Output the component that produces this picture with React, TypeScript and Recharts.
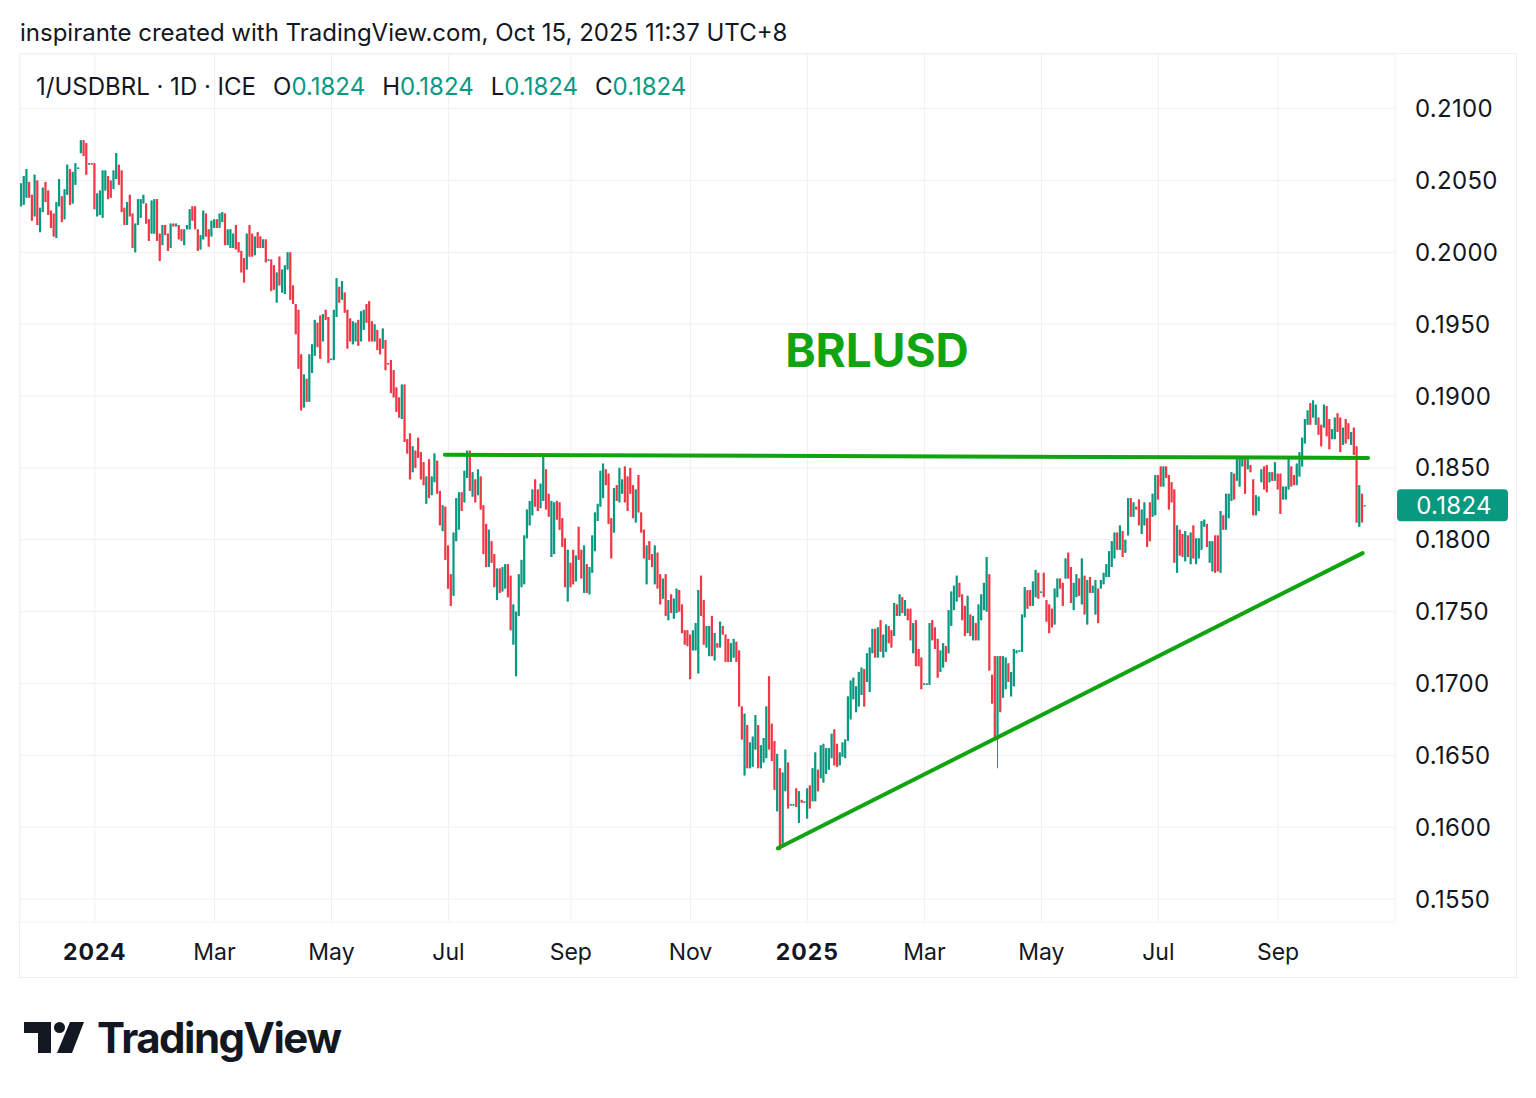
import React from "react";
import { ComposedChart, Bar, XAxis, YAxis, CartesianGrid, ReferenceLine } from "recharts";

// daily bars of 1/USDBRL, [open, close] or [open, close, low, high], in units of 0.0001
const nov23 = [[2032,2048],[2033,2053],[2038,2058],[2049,2038],[2040,2022],[2025,2054]];
const dec23 = [[2050,2019],[2014,2031],[2028,2045],[2049,2035],[2043,2026],[2029,2017],[2027,2011],[2010,2035],[2032,2051],[2039,2021],[2023,2044],[2040,2061],[2058,2033],[2034,2056],[2047,2062],[2058,2059],[2069,2078],[2078,2067],[2076,2054],[2061,2062],[2062,2061]];
const jan24 = [[2062,2030],[2025,2041],[2026,2043],[2024,2057],[2043,2057],[2053,2037],[2050,2038],[2044,2057],[2051,2069],[2061,2047],[2057,2028],[2031,2019],[2019,2035],[2040,2025],[2027,2003],[2000,2020],[2019,2037],[2024,2037],[2034,2040],[2034,2020],[2023,2008],[2013,2036],[2013,2037]];
const feb24 = [[2037,2008],[2013,1994],[2005,2019],[2019,2012],[2013,2001],[2003,2020],[2020,2018],[2018,2020],[2019,2009],[2016,2008],[2005,2016],[2016,2019],[2016,2030],[2032,2022],[2032,2016],[2016,2001],[2002,2012],[2009,2029],[2027,2011],[2016,2004],[2011,2022]];
const mar24 = [[2017,2023],[2023,2017],[2017,2027],[2021,2028],[2027,2005],[2005,2016],[2003,2016],[2003,2013],[2019,2002],[2007,2000],[2001,1986],[1996,1979],[1988,2013],[2019,1997],[2013,1997],[1998,2011],[2014,2003],[2011,2003],[2003,2009],[2009,1993],[1994,1995]];
const apr24 = [[1995,1973],[1991,1974],[1965,1986],[1997,1977],[1972,1988],[1971,1991],[1988,2000],[2000,1967],[1977,1964],[1964,1943],[1960,1919],[1929,1890],[1892,1915],[1912,1896],[1896,1929],[1916,1936],[1928,1953],[1951,1934],[1956,1926],[1938,1957],[1960,1953],[1955,1923]];
const may24 = [[1925,1926],[1925,1960],[1955,1982],[1976,1965],[1967,1980],[1972,1958],[1960,1933],[1954,1938],[1936,1952],[1938,1951],[1953,1935],[1938,1959],[1946,1960],[1964,1951],[1966,1938],[1952,1938],[1938,1950],[1946,1932],[1940,1929],[1933,1947],[1939,1918],[1923,1922],[1925,1902]];
const jun24 = [[1918,1899],[1906,1889],[1899,1885],[1884,1908],[1908,1868],[1870,1860],[1874,1842],[1847,1865],[1862,1850],[1871,1857],[1861,1842],[1854,1838],[1825,1844],[1856,1829],[1831,1844],[1840,1860],[1855,1832],[1834,1810],[1806,1824],[1823,1786]];
const jul24 = [[1796,1766],[1776,1754],[1761,1805],[1799,1829],[1807,1833],[1833,1820],[1826,1848],[1843,1862],[1862,1834],[1830,1847],[1842,1826],[1831,1849],[1844,1821],[1824,1790],[1811,1781],[1781,1807],[1799,1784],[1790,1767],[1758,1780],[1780,1763],[1764,1781],[1766,1783],[1783,1760]];
const aug24 = [[1775,1737],[1727,1755],[1705,1750],[1747,1776],[1767,1786],[1769,1803],[1801,1821],[1810,1827],[1817,1835],[1842,1823],[1835,1820],[1822,1839],[1827,1860],[1849,1821],[1832,1816],[1788,1827],[1790,1826],[1827,1814],[1826,1807],[1815,1795],[1801,1767],[1757,1793]];
const sep24 = [[1784,1767],[1793,1769],[1771,1789],[1809,1786],[1793,1773],[1763,1796],[1783,1763],[1762,1781],[1777,1803],[1792,1819],[1813,1825],[1823,1848],[1829,1853],[1849,1838],[1846,1811],[1815,1787],[1805,1836],[1838,1827],[1826,1850],[1832,1842],[1851,1826]];
const oct24 = [[1844,1820],[1850,1832],[1838,1815],[1812,1835],[1845,1819],[1819,1805],[1807,1787],[1769,1796],[1799,1786],[1790,1781],[1769,1796],[1791,1766],[1776,1755],[1759,1773],[1776,1747],[1744,1758],[1762,1749],[1745,1759],[1749,1766],[1765,1750],[1755,1735],[1737,1727],[1737,1726]];
const nov24 = [[1734,1703],[1723,1737],[1723,1742],[1707,1765],[1775,1747],[1758,1727],[1725,1740],[1719,1740],[1747,1719],[1716,1735],[1728,1725],[1725,1743],[1740,1734],[1734,1715],[1731,1715],[1715,1728],[1718,1731],[1729,1715],[1723,1684],[1684,1661],[1636,1679]];
const dec24 = [[1671,1641],[1641,1659],[1642,1663],[1654,1678],[1671,1641],[1641,1657],[1645,1662],[1648,1684],[1705,1654],[1672,1646],[1660,1626],[1611,1651],[1641,1584],[1586,1638],[1625,1654],[1645,1613],[1615,1616],[1615,1616],[1627,1614],[1603,1625],[1619,1617],[1617,1618]];
const jan25 = [[1606,1627],[1629,1613],[1618,1641],[1618,1652],[1640,1625],[1634,1657],[1631,1658],[1637,1655],[1640,1655],[1648,1665],[1668,1643],[1658,1642],[1643,1652],[1649,1659],[1648,1661],[1660,1691],[1675,1702],[1689,1704],[1680,1698],[1684,1708],[1692,1711],[1710,1684],[1701,1721]];
const feb25 = [[1694,1725],[1721,1738],[1738,1718],[1718,1739],[1744,1722],[1718,1734],[1722,1741],[1740,1728],[1737,1725],[1733,1756],[1755,1747],[1747,1762],[1760,1749],[1747,1758],[1752,1744],[1752,1730],[1721,1742],[1744,1712],[1724,1712],[1718,1696]];
const mar25 = [[1699,1700],[1699,1700],[1699,1742],[1744,1730],[1739,1724],[1731,1704],[1708,1723],[1711,1728],[1726,1715],[1721,1751],[1740,1764],[1751,1768],[1757,1775],[1770,1760],[1762,1744],[1754,1733],[1735,1761],[1748,1733],[1730,1747],[1742,1730],[1730,1755]];
const apr25 = [[1744,1762],[1751,1770],[1750,1788],[1776,1709],[1706,1686],[1719,1661],[1661,1719,1641,1719],[1719,1680],[1690,1719],[1696,1718],[1714,1701],[1691,1708],[1698,1724],[1721,1723],[1722,1723],[1722,1748],[1746,1767],[1765,1752],[1765,1754],[1754,1771],[1760,1779],[1777,1759]];
const may25 = [[1763,1764],[1777,1760],[1758,1743],[1755,1735],[1752,1739],[1741,1766],[1760,1773],[1773,1766],[1770,1754],[1773,1787],[1791,1773],[1781,1756],[1751,1770],[1760,1776],[1773,1761],[1755,1787],[1775,1748],[1741,1772],[1774,1763],[1763,1768],[1748,1772],[1766,1742]];
const jun25 = [[1766,1772],[1769,1777],[1774,1783],[1774,1792],[1781,1799],[1787,1805],[1805,1793],[1793,1810],[1806,1788],[1791,1800],[1803,1829],[1829,1816],[1816,1826],[1823,1821],[1828,1810],[1804,1821],[1810,1826],[1815,1795],[1826,1799],[1816,1832],[1817,1845]];
const jul25 = [[1845,1828],[1851,1837],[1837,1851],[1851,1843],[1845,1821],[1840,1826],[1835,1784],[1777,1810],[1807,1789],[1804,1788],[1785,1806],[1803,1788],[1783,1805],[1810,1787],[1783,1801],[1787,1801],[1793,1813],[1809,1814],[1811,1795],[1784,1799],[1778,1799],[1803,1777],[1803,1778]];
const aug25 = [[1777,1820],[1817,1807],[1807,1832],[1815,1832],[1827,1847],[1846,1828],[1841,1858],[1837,1858],[1851,1858],[1857,1832],[1849,1856],[1852,1847],[1842,1817],[1817,1831],[1820,1830],[1840,1849],[1851,1835],[1852,1833],[1840,1847],[1847,1841],[1841,1854]];
const sep25 = [[1846,1835],[1846,1818],[1828,1837],[1828,1837],[1835,1858],[1851,1837],[1845,1838],[1838,1853],[1844,1861],[1851,1871],[1867,1884],[1880,1890],[1895,1880],[1885,1897],[1880,1894],[1885,1873],[1880,1865],[1878,1894],[1893,1872],[1884,1863],[1870,1877],[1870,1885]];
const oct25 = [[1888,1875],[1885,1861],[1866,1878],[1884,1867],[1881,1870],[1866,1875],[1878,1859],[1865,1812],[1809,1838],[1832,1812],[1824,1824]];

const monthBars = [nov23, dec23, jan24, feb24, mar24, apr24, may24, jun24, jul24, aug24, sep24, oct24, nov24, dec24, jan25, feb25, mar25, apr25, may25, jun25, jul25, aug25, sep25, oct25];
const monthTickLabels = ["", "", "2024", "", "Mar", "", "May", "", "Jul", "", "Sep", "", "Nov", "", "2025", "", "Mar", "", "May", "", "Jul", "", "Sep", ""];
const priceTicks = [0.155, 0.16, 0.165, 0.17, 0.175, 0.18, 0.185, 0.19, 0.195, 0.2, 0.205, 0.21];

// drawn trend lines: x in bar index, y in price
const neckline = [{ x: 155.7, y: 0.18592 }, { x: 495.1, y: 0.18569 }];
const supportLine = [{ x: 278.1, y: 0.15853 }, { x: 493.1, y: 0.17907 }];

const PIP = 0.0001;
const UP = "#089981";
const DOWN = "#F23645";
const GREEN = "#10A510";
const TEXT = "#131722";
const GRID = "#F0F0F0";
const FONT = "Inter, 'Noto Sans', sans-serif";

const rows: any[] = [];
const tickIndex: number[] = [];
const tickText: Record<number, string> = {};
monthBars.forEach((bars, m) => {
  if (monthTickLabels[m]) {
    tickIndex.push(rows.length);
    tickText[rows.length] = monthTickLabels[m];
  }
  bars.forEach((b) => {
    const lo = (b[2] ?? Math.min(b[0], b[1])) * PIP;
    const hi = (b[3] ?? Math.max(b[0], b[1])) * PIP;
    rows.push({ i: rows.length, o: b[0] * PIP, c: b[1] * PIP, lo, hi, range: [lo, hi] });
  });
});
const last = rows[rows.length - 1];

const Candle = (props: any) => {
  const { x, y, width, height, payload } = props;
  if (x == null || y == null || !payload) return null;
  const top = Math.min(y, y + height);
  const h = Math.abs(height);
  const span = payload.hi - payload.lo;
  const bHi = Math.max(payload.o, payload.c);
  const bLo = Math.min(payload.o, payload.c);
  const bTop = span > 0 ? top + ((payload.hi - bHi) / span) * h : top;
  const bBot = span > 0 ? top + ((payload.hi - bLo) / span) * h : top + h;
  const color = payload.c >= payload.o ? UP : DOWN;
  const cx = x + width / 2;
  return (
    <g>
      <rect x={cx - 0.5} y={top} width={1} height={Math.max(h, 1)} fill={color} />
      <rect x={cx - 1.1} y={bTop} width={2.2} height={Math.max(bBot - bTop, 1.2)} fill={color} />
    </g>
  );
};

const TimeTick = (props: any) => {
  const { x, y, payload } = props;
  const label = tickText[payload.value] || "";
  const bold = /^\d{4}$/.test(label);
  return (
    <text x={x} y={y + 30} textAnchor="middle" dominantBaseline="central" fontSize={23} fontWeight={bold ? 700 : 400} fill={TEXT} fontFamily={FONT} letterSpacing={bold ? 1 : 0}>
      {label}
    </text>
  );
};

const PriceTick = (props: any) => {
  const { x, y, payload } = props;
  return (
    <text x={x + 20} y={y} textAnchor="start" dominantBaseline="central" fontSize={24} letterSpacing={0.3} fill={TEXT} fontFamily={FONT}>
      {Number(payload.value).toFixed(4)}
    </text>
  );
};

const LastPriceLabel = (props: any) => {
  const vb = props.viewBox || {};
  const x0 = vb.x + vb.width + 2;
  const y0 = vb.y;
  return (
    <g>
      <rect x={x0} y={y0 - 16} width={111} height={32} rx={4} fill={UP} />
      <text x={x0 + 57} y={y0} textAnchor="middle" dominantBaseline="central" fontSize={24} letterSpacing={0.3} fill="#fff" fontFamily={FONT}>
        {last.c.toFixed(4)}
      </text>
    </g>
  );
};

export default function App() {
  const v = (n: number) => n.toFixed(4);
  return (
    <div style={{ position: "absolute", left: 0, top: 0, width: 1536, height: 1098, background: "#fff", overflow: "hidden" }}>
      <div style={{ position: "absolute", left: 19, top: 53, width: 1496, height: 923, border: `1px solid ${GRID}` }} />
      <div style={{ position: "absolute", left: 20, top: 54 }}>
        <ComposedChart width={1496} height={923} data={rows} margin={{ top: 0, right: 0, bottom: 0, left: 0 }}>
          <CartesianGrid stroke={GRID} strokeWidth={1} />
          <XAxis
            type="number"
            dataKey="i"
            domain={[-0.5, 505]}
            allowDataOverflow
            ticks={tickIndex}
            interval={0}
            axisLine={false}
            tickLine={false}
            tickSize={0}
            tickMargin={0}
            height={55}
            tick={<TimeTick />}
          />
          <YAxis
            orientation="right"
            type="number"
            domain={[0.1534, 0.2138]}
            allowDataOverflow
            ticks={priceTicks}
            interval={0}
            axisLine={false}
            tickLine={false}
            tickSize={0}
            tickMargin={0}
            width={121}
            tick={<PriceTick />}
          />
          <Bar dataKey="range" barSize={2} shape={<Candle />} isAnimationActive={false} />
          <ReferenceLine segment={neckline} stroke={GREEN} strokeWidth={4} strokeLinecap="round" ifOverflow="visible" />
          <ReferenceLine segment={supportLine} stroke={GREEN} strokeWidth={4} strokeLinecap="round" ifOverflow="visible" />
          <ReferenceLine y={last.c} stroke="none" label={<LastPriceLabel />} />
        </ComposedChart>
      </div>
      <svg width={1536} height={1098} style={{ position: "absolute", left: 0, top: 0, pointerEvents: "none" }} fontFamily={FONT}>
        <text x={20} y={32} dominantBaseline="central" fontSize={24} fill={TEXT}>
          inspirante created with TradingView.com, Oct 15, 2025 11:37 UTC+8
        </text>
        <text x={36} y={86} dominantBaseline="central" fontSize={24} fill={TEXT}>
          <tspan>1/USDBRL · 1D · ICE</tspan>
          <tspan dx={17}>O</tspan>
          <tspan fill={UP}>{v(last.o)}</tspan>
          <tspan dx={17}>H</tspan>
          <tspan fill={UP}>{v(last.hi)}</tspan>
          <tspan dx={17}>L</tspan>
          <tspan fill={UP}>{v(last.lo)}</tspan>
          <tspan dx={17}>C</tspan>
          <tspan fill={UP}>{v(last.c)}</tspan>
        </text>
        <text x={877} y={350} textAnchor="middle" dominantBaseline="central" fontSize={46} fontWeight={700} fill={GREEN}>
          BRLUSD
        </text>
        <g fill={TEXT}>
          <path d="M24 1022 H51 V1053 H38 V1033 H24 Z" />
          <circle cx={59.5} cy={1027.5} r={5.5} />
          <polygon points="70,1022 84,1022 72,1053 57,1053" />
          <text x={97} y={1053} fontSize={42} fontWeight={700} letterSpacing={-1.5}>
            TradingView
          </text>
        </g>
      </svg>
    </div>
  );
}
